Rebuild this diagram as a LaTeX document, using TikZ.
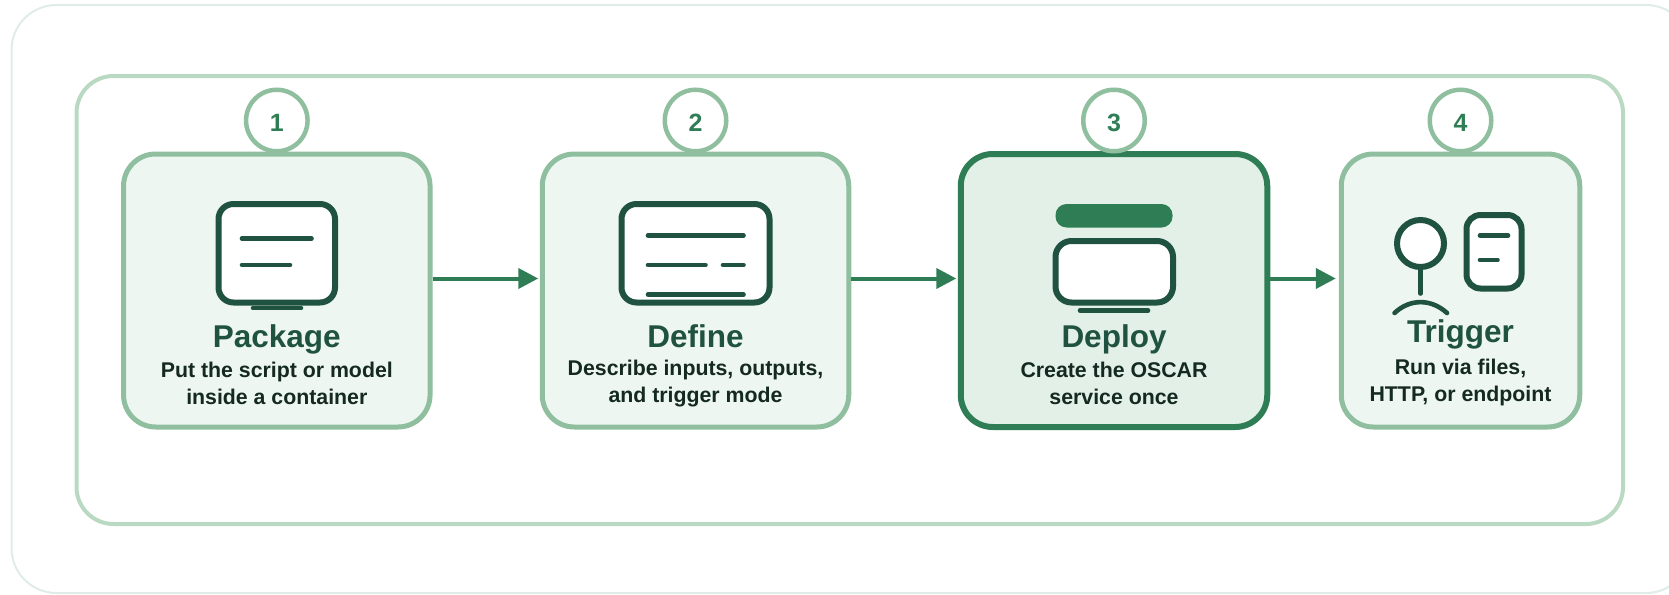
\documentclass[tikz,border=0pt]{standalone}
\usepackage{fontspec}
\setmainfont{Liberation Sans}
\usetikzlibrary{arrows.meta}
\definecolor{cardline}{HTML}{8FBF9F}
\definecolor{cardfill}{HTML}{EDF6F1}
\definecolor{deployfill}{HTML}{E2F0E7}
\definecolor{flowgreen}{HTML}{2E7D55}
\definecolor{icondark}{HTML}{1F5240}
\definecolor{frameline}{HTML}{B9D9C3}
\definecolor{pageline}{HTML}{DFECE8}
\definecolor{desctext}{HTML}{14291F}

\begin{document}
\begin{tikzpicture}[x=1pt,y=-1pt,
    stepcard/.style={draw=cardline,line width=5pt,fill=cardfill,rounded corners=32pt,inner sep=0pt},
    stepbadge/.style={circle,draw=cardline,line width=4.5pt,fill=white,minimum size=61.5pt,inner sep=0pt,
        text height=22pt,text depth=0pt,text=flowgreen,font=\fontsize{25}{25}\selectfont\bfseries},
    steptitle/.style={anchor=base,inner sep=0pt,text=icondark,font=\fontsize{31.5}{32}\selectfont\bfseries},
    stepdesc/.style={align=center,inner sep=0pt,text=desctext,font=\fontsize{21.3}{27.3}\selectfont\bfseries},
    flow/.style={draw=flowgreen,line width=4pt,-{Triangle[length=20pt,width=20pt]},shorten >=1.5pt},
    iconbox/.style={draw=icondark,line width=6pt,fill=white},
    iconline/.style={draw=icondark,line width=4.6pt,line cap=round}]
    \clip (0,0) rectangle (1669,594);
    % outer frames
    \draw[pageline,line width=2pt,rounded corners=45pt] (11.5,5) rectangle (1691,593);
    \draw[frameline,line width=4pt,rounded corners=37pt] (76.5,76) rectangle (1623,524);
    % cards
    \node[stepcard,minimum width=306.5pt,minimum height=273pt] (card1) at (276.8,290.5) {};
    \node[stepcard,minimum width=306.5pt,minimum height=273pt] (card2) at (695.5,290.5) {};
    \node[stepcard,minimum width=306.5pt,minimum height=273pt,draw=flowgreen,line width=6pt,fill=deployfill] (card3) at (1114,290.5) {};
    \node[stepcard,minimum width=238.5pt,minimum height=273pt] (card4) at (1460.5,290.5) {};
    % badges
    \node[stepbadge] (badge1) at (276.8,120.5) {1};
    \node[stepbadge] (badge2) at (695.5,120.5) {2};
    \node[stepbadge] (badge3) at (1114,120.5) {3};
    \node[stepbadge] (badge4) at (1460.5,120.5) {4};
    % arrows
    \coordinate (flowrow) at (0,278.5);
    \draw[flow] (card1.east |- flowrow) -- (card2.west |- flowrow);
    \draw[flow] (card2.east |- flowrow) -- (card3.west |- flowrow);
    \draw[flow,shorten >=3pt] (card3.east |- flowrow) -- (card4.west |- flowrow);
    % package icon
    \draw[iconbox,rounded corners=15pt] (218.5,204) rectangle (335,302.5);
    \draw[iconline] (242,238.5) -- (311.5,238.5);
    \draw[iconline] (242,265) -- (290,265);
    \draw[iconline] (253,308) -- (301,308);
    % define icon
    \draw[iconbox,rounded corners=15pt] (621.5,204) rectangle (769.5,302.5);
    \draw[iconline] (648,235.5) -- (743.5,235.5);
    \draw[iconline] (648,265) -- (705.5,265);
    \draw[iconline] (723,265) -- (743.5,265);
    \draw[iconline] (648,294.5) -- (743.5,294.5);
    % deploy icon
    \fill[flowgreen,rounded corners=11pt] (1055.5,204) rectangle (1172.5,227.5);
    \draw[iconbox,rounded corners=16pt] (1055.5,241) rectangle (1173,302.5);
    \draw[iconline] (1080,310.5) -- (1148,310.5);
    % trigger icon
    \draw[iconbox] (1420.5,243.5) circle[radius=23.5];
    \draw[iconline] (1420.5,269) -- (1420.5,293.5);
    \draw[iconline] (1394.5,313) .. controls (1410,298.5) and (1431,298.5) .. (1447,313);
    \draw[iconbox,rounded corners=14pt] (1466.5,215) rectangle (1521.5,288.5);
    \draw[iconline] (1480,235.5) -- (1508,235.5);
    \draw[iconline] (1480,260) -- (1497.5,260);
    % titles
    \node[steptitle] (title1) at (276.8,347.7) {Package};
    \node[steptitle] (title2) at (695.5,347.7) {Define};
    \node[steptitle] (title3) at (1114,347.7) {Deploy};
    \node[steptitle] (title4) at (1460.5,342.7) {Trigger};
    % descriptions
    \node[stepdesc] (desc1) at (276.8,383.5) {Put the script or model\\inside a container};
    \node[stepdesc] (desc2) at (695.5,383.5) {Describe inputs, outputs,\\and trigger mode};
    \node[stepdesc] (desc3) at (1114,383.5) {Create the OSCAR\\service once};
    \node[stepdesc] (desc4) at (1460.5,382.5) {Run via files,\\HTTP, or endpoint};
\end{tikzpicture}
\end{document}
